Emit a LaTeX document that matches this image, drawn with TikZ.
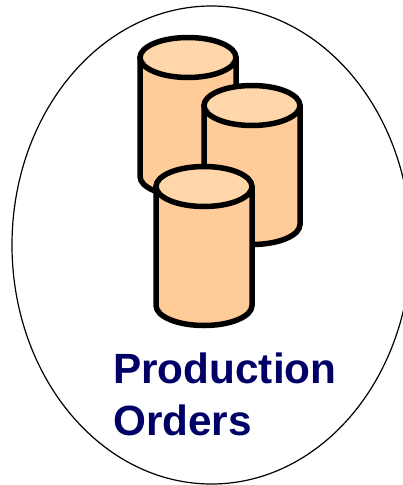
\documentclass[tikz,border=0pt]{standalone}
\usepackage{fontspec}
\setmainfont{Liberation Sans}
\usepackage{tikz}
\usetikzlibrary{shapes.geometric, positioning}
\definecolor{drumbody}{RGB}{255, 204, 153}
\definecolor{drumtop}{RGB}{255, 214, 170}
\definecolor{labelnavy}{RGB}{0, 0, 102}
\begin{document}
\begin{tikzpicture}[
	x=1pt, y=-1pt,
	oval/.style={ellipse, draw=black, fill=white, line width=1.2pt, inner sep=0pt, minimum width=399pt, minimum height=478pt},
	drum/.pic={
		\path[draw=black, fill=drumbody, line width=5.5pt, line join=round] (-48,0) -- (-48,119) arc[start angle=180, end angle=0, x radius=48, y radius=20] -- (48,0) -- cycle;
		\path[draw=black, fill=drumtop, line width=5.5pt] (0,0) ellipse[x radius=48, y radius=20];
	},
	caption/.style={font=\bfseries\fontsize{42.3}{52}\selectfont, text=labelnavy, align=left, inner sep=0pt}
	]
	\useasboundingbox (0,0) rectangle (402,485);
	\node[oval] (order) at (211.5,245) {};
	\pic at (188,57.5) {drum};
	\pic at (252,105.5) {drum};
	\pic at (204,186.5) {drum};
	\node[caption, anchor=base west] (label) at (113,435) {Production\\Orders};
\end{tikzpicture}
\end{document}
